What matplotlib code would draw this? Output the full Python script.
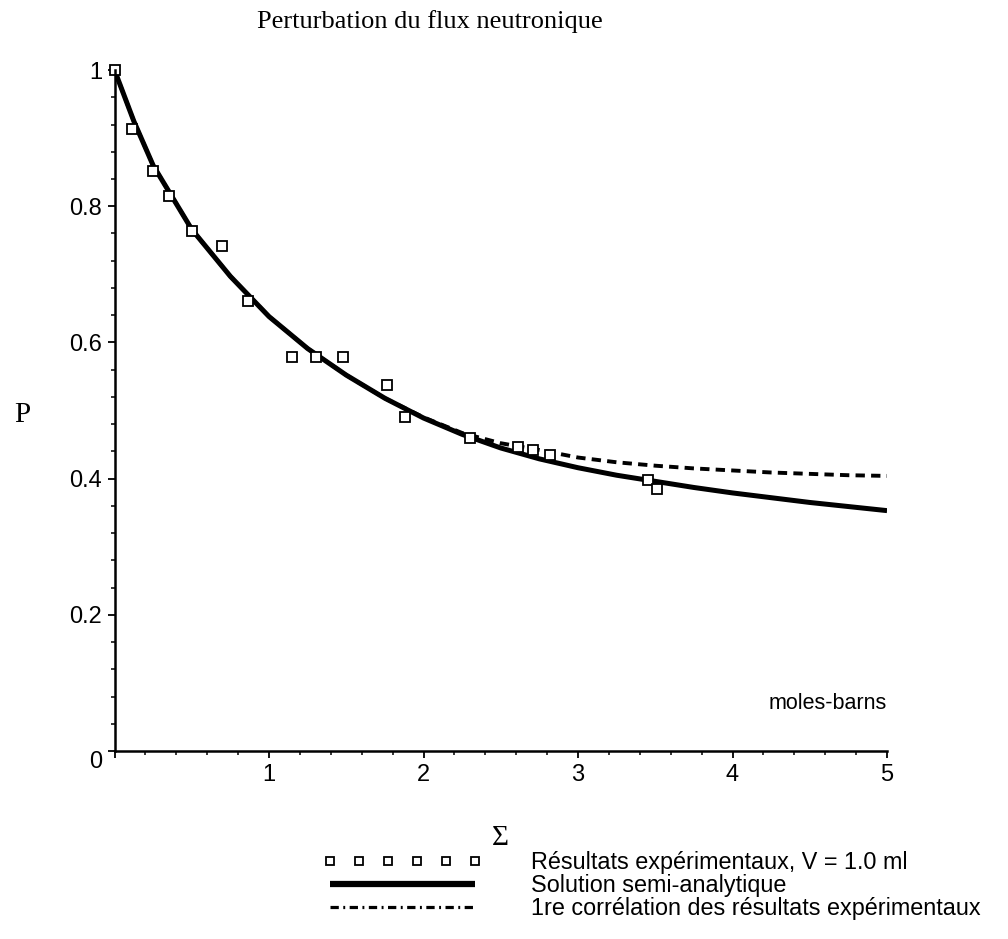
import matplotlib
matplotlib.use('Agg')
import matplotlib.pyplot as plt
from matplotlib.lines import Line2D

sigma_exp = [0.0, 0.113, 0.249, 0.353, 0.50, 0.696, 0.864, 1.149, 1.304, 1.479,
             1.764, 1.88, 2.30, 2.61, 2.71, 2.82, 3.45, 3.51]
p_exp = [1.0, 0.913, 0.852, 0.815, 0.764, 0.742, 0.661, 0.579, 0.579, 0.579,
         0.537, 0.490, 0.460, 0.446, 0.442, 0.435, 0.398, 0.385]

# solution semi-analytique
sigma_sol = [0.0, 0.125, 0.25, 0.5, 0.75, 1.0, 1.25, 1.5, 1.75, 2.0, 2.25, 2.5,
             2.75, 3.0, 3.25, 3.5, 3.75, 4.0, 4.25, 4.5, 4.75, 5.0]
p_sol = [1.0, 0.925, 0.860, 0.766, 0.697, 0.638, 0.591, 0.552, 0.518, 0.489,
         0.465, 0.445, 0.429, 0.416, 0.405, 0.396, 0.387, 0.379, 0.372, 0.365,
         0.359, 0.353]

# 1re correlation
sigma_cor = sigma_sol
p_cor = [1.0, 0.925, 0.860, 0.766, 0.697, 0.638, 0.591, 0.552, 0.518, 0.490,
         0.467, 0.452, 0.442, 0.431, 0.424, 0.419, 0.415, 0.412, 0.409, 0.407,
         0.405, 0.404]

xticks = [0, 1, 2, 3, 4, 5]
xlabels = ['', '1', '2', '3', '4', '5']
yticks = [0, 0.2, 0.4, 0.6, 0.8, 1.0]
ylabels = ['0', '0.2', '0.4', '0.6', '0.8', '1']

labels = ['Résultats expérimentaux, V = 1.0 ml',
          'Solution semi-analytique',
          '1re corrélation des résultats expérimentaux']

plt.rcParams['font.family'] = ['Liberation Sans', 'DejaVu Sans']

fig = plt.figure(figsize=(10.08, 9.39), dpi=100)
ax = fig.add_axes([0.1136, 0.2002, 0.7664, 0.7252])

ax.plot(sigma_cor, p_cor, color='black', lw=2.8, linestyle=(0, (2.4, 1.6)))
ax.plot(sigma_sol, p_sol, color='black', lw=3.6, solid_capstyle='butt')
ax.plot(sigma_exp, p_exp, linestyle='none', marker='s', ms=6.5,
        mfc='white', mec='black', mew=1.3, clip_on=False)

ax.set_xlim(0, 5)
ax.set_ylim(0, 1)
for s in ['top', 'right']:
    ax.spines[s].set_visible(False)
for s in ['left', 'bottom']:
    ax.spines[s].set_linewidth(1.8)

ax.set_xticks(xticks)
ax.set_xticklabels(xlabels)
ax.set_yticks(yticks)
ax.set_yticklabels(ylabels)
ax.set_xticks([i * 0.2 for i in range(26)], minor=True)
ax.set_yticks([i * 0.04 for i in range(26)], minor=True)
ax.tick_params(which='major', length=5, width=1.3, labelsize=17, pad=4)
ax.tick_params(which='minor', length=3, width=1.1)
ax.get_yticklabels()[0].set_va('top')

ax.text(5.0, 0.07, 'moles-barns', ha='right', va='center', fontsize=15.5)

fig.text(430 / 1008, 1 - 22 / 939, 'Perturbation du flux neutronique',
         ha='center', va='center', fontsize=19, family='Liberation Serif')
fig.text(22 / 1008, 1 - 415 / 939, 'P', ha='center', va='center',
         fontsize=21, family='Liberation Serif')
fig.text(500 / 1008, 1 - 838 / 939, 'Σ', ha='center', va='center',
         fontsize=21, family='Liberation Serif')

handles = [
    Line2D([], [], linestyle='none', marker='s', ms=6, mfc='white',
           mec='black', mew=1.3),
    Line2D([], [], color='black', lw=4.5, solid_capstyle='butt'),
    Line2D([], [], color='black', lw=2.3, linestyle=(0, (2.6, 1.4, 0.6, 1.4))),
]
fig.legend(handles, labels, loc='upper left',
           bbox_to_anchor=(323 / 1008, 1 - 851 / 939), frameon=False,
           fontsize=16.8, numpoints=6, handlelength=6.8, handletextpad=2.1,
           labelspacing=0.0, borderpad=0, borderaxespad=0)

fig.savefig('out.png', dpi=100)
